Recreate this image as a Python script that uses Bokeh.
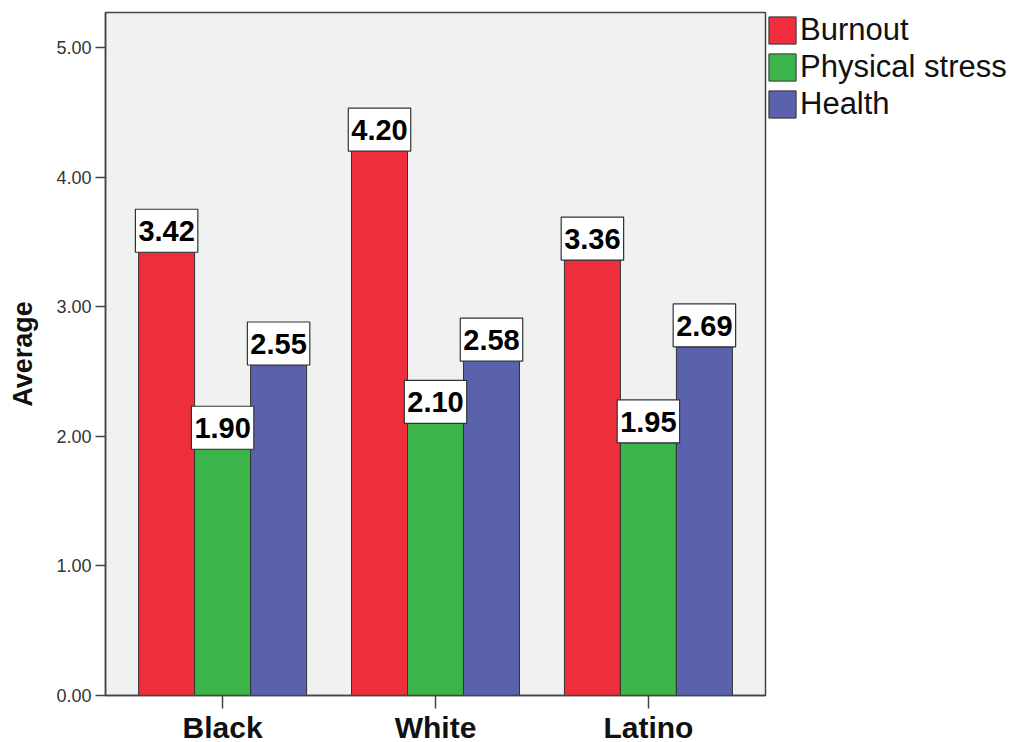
from bokeh.plotting import figure
from bokeh.models import ColumnDataSource, FactorRange, Legend, LegendItem, FixedTicker, NumeralTickFormatter
from bokeh.transform import dodge
from bokeh.core.properties import value
from bokeh.embed import file_html
from bokeh.resources import INLINE

groups = ["Black", "White", "Latino"]
series = ["Burnout", "Physical stress", "Health"]
burnout = [3.42, 4.20, 3.36]
physical = [1.90, 2.10, 1.95]
health = [2.55, 2.58, 2.69]
y_ticks = [0, 1, 2, 3, 4, 5]
colors = ["#ee2e3b", "#3bb54a", "#5a62ae"]

src = ColumnDataSource(dict(
    g=groups, b=burnout, p=physical, h=health,
    bl=["%.2f" % v for v in burnout],
    pl=["%.2f" % v for v in physical],
    hl=["%.2f" % v for v in health],
))

FONT = "Liberation Sans"

p = figure(x_range=FactorRange(*groups, range_padding=0.05, range_padding_units="absolute"),
           y_range=(0, 5.27), frame_width=660, frame_height=683,
           min_border_left=105, min_border_top=12, min_border_bottom=40, min_border_right=0,
           output_backend="svg", toolbar_location=None)

p.background_fill_color = "#f0f1f1"
p.outline_line_color = "#444444"
p.outline_line_width = 1.5
p.xgrid.visible = False
p.ygrid.visible = False

w = 0.263
cols = ["b", "p", "h"]
lcols = ["bl", "pl", "hl"]
offs = [-w, 0, w]
rends = []
for c, lc, off, col in zip(cols, lcols, offs, colors):
    r = p.vbar(x=dodge("g", off, range=p.x_range), top=c, width=w, source=src,
               fill_color=col, line_color="#333333", line_width=1)
    rends.append(r)
for c, lc, off in zip(cols, lcols, offs):
    p.text(x=dodge("g", off, range=p.x_range), y=c, text=lc, source=src,
           anchor="bottom_center", text_align="center", text_baseline="middle",
           text_font=value(FONT), text_font_style="bold", text_font_size="29px",
           text_color="black", background_fill_color="white",
           border_line_color="#333333", border_line_width=1.2,
           padding=dict(left=3, right=3, top=12, bottom=11))

p.yaxis.ticker = FixedTicker(ticks=y_ticks)
p.yaxis.formatter = NumeralTickFormatter(format="0.00")
p.yaxis.minor_tick_line_color = None
p.yaxis.major_tick_out = 10
p.yaxis.major_tick_in = 0
p.yaxis.major_label_text_font = FONT
p.yaxis.major_label_text_font_size = "18px"
p.yaxis.major_label_text_color = "#333333"
p.yaxis.major_label_standoff = 4
p.yaxis.axis_label = "Average"
p.yaxis.axis_label_text_font = FONT
p.yaxis.axis_label_text_font_style = "bold"
p.yaxis.axis_label_text_font_size = "27px"
p.yaxis.axis_label_text_color = "#111111"
p.yaxis.axis_label_standoff = 15

p.xaxis.major_tick_out = 13
p.xaxis.major_tick_in = 0
p.xaxis.major_label_text_font = FONT
p.xaxis.major_label_text_font_style = "bold"
p.xaxis.major_label_text_font_size = "30px"
p.xaxis.major_label_text_color = "#111111"
p.xaxis.major_label_standoff = 2

for ax in (p.xaxis, p.yaxis):
    ax.axis_line_color = "#444444"
    ax.axis_line_width = 1.5
    ax.major_tick_line_color = "#444444"
    ax.major_tick_line_width = 1.5

legend = Legend(items=[LegendItem(label=s, renderers=[r]) for s, r in zip(series, rends)],
                location="top_left", margin=0, padding=0, spacing=1,
                glyph_width=34, glyph_height=34, label_standoff=1,
                label_text_font=FONT, label_text_font_size="31px",
                label_text_color="#111111",
                border_line_color=None, background_fill_alpha=0)
p.add_layout(legend, "right")

open("out.html", "w").write(file_html(p, INLINE))
